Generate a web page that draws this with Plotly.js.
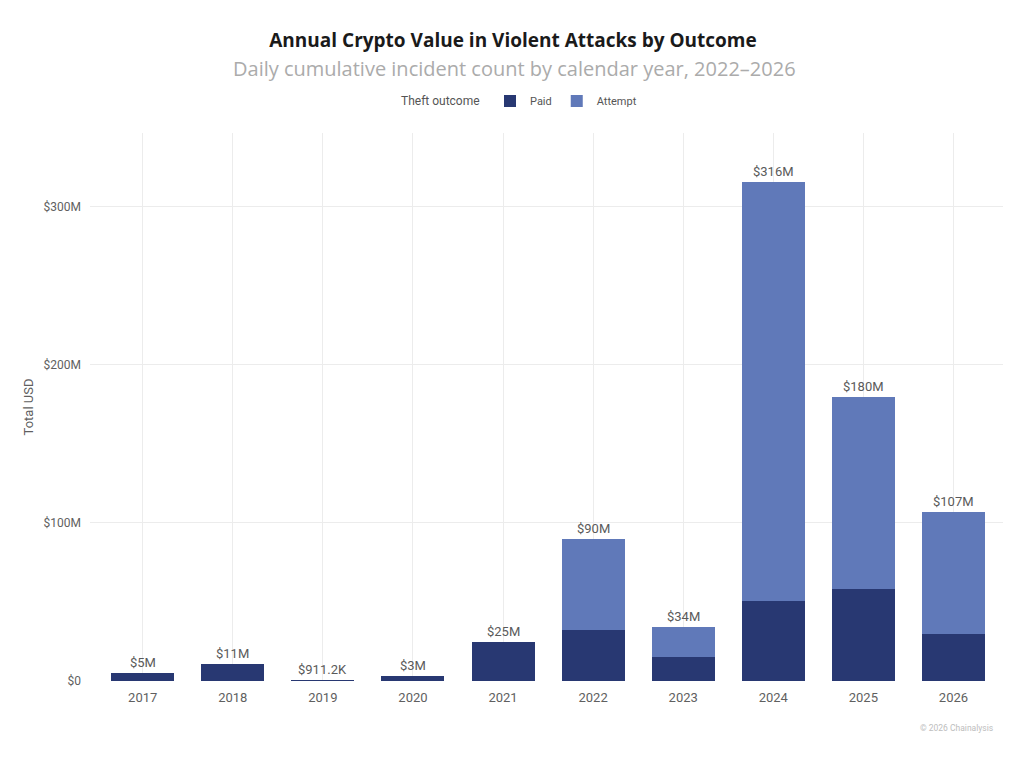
<!DOCTYPE html>
<html>
<head>
<meta charset="utf-8">
<script src="https://cdn.plot.ly/plotly-3.0.1.min.js"></script>
<style>
html,body{margin:0;padding:0;background:#fff;}
#chart{width:1024px;height:759px;}
</style>
</head>
<body>
<div id="chart"></div>
<script>
// ---- data ----
var years = ['2017','2018','2019','2020','2021','2022','2023','2024','2025','2026'];
var paidUSD = [5e6, 11e6, 0.9112e6, 3e6, 25e6, 32.3e6, 15.2e6, 50.6e6, 58.2e6, 29.5e6];
var attemptUSD = [0, 0, 0, 0, 0, 57.7e6, 18.8e6, 265.4e6, 121.8e6, 77.5e6];
var totalLabels = ['$5M','$11M','$911.2K','$3M','$25M','$90M','$34M','$316M','$180M','$107M'];
var yTickVals = [0, 100e6, 200e6, 300e6];
var yTickText = ['$0','$100M','$200M','$300M'];

var totals = paidUSD.map(function(v, i){ return v + attemptUSD[i]; });

var paidColor = '#283872';
var attemptColor = '#6079b9';

var traces = [
  {
    type: 'bar', name: 'Paid', x: years, y: paidUSD,
    marker: {color: paidColor, line: {width: 0}},
    hoverinfo: 'skip'
  },
  {
    type: 'bar', name: 'Attempt', x: years, y: attemptUSD,
    marker: {color: attemptColor, line: {width: 0}},
    hoverinfo: 'skip'
  }
];

// category axis: annotation x given as category index
var annotations = years.map(function(yr, i){
  return {
    x: i, y: totals[i], xref: 'x', yref: 'y',
    text: totalLabels[i], showarrow: false,
    yanchor: 'bottom', yshift: 1,
    font: {family: 'Roboto, sans-serif', size: 13, color: '#5a5a5a'}
  };
});

annotations.push({
  xref: 'paper', yref: 'paper', x: (514 - 90) / 913, y: (681 - 69) / 548, yanchor: 'middle',
  text: 'Daily cumulative incident count by calendar year, 2022–2026',
  showarrow: false,
  font: {family: '"Open Sans", sans-serif', size: 20, color: '#ababab'}
});
annotations.push({
  xref: 'paper', yref: 'paper', x: (482 - 90) / 913, xanchor: 'right', y: (681 - 101) / 548, yanchor: 'middle',
  text: 'Theft outcome', showarrow: false,
  font: {family: 'Roboto, sans-serif', size: 12, color: '#555'}
});
annotations.push({
  xref: 'paper', yref: 'paper', x: (995 - 90) / 913, xanchor: 'right', y: (681 - 728) / 548, yanchor: 'middle',
  text: '© 2026 Chainalysis', showarrow: false,
  font: {family: 'Roboto, sans-serif', size: 8.5, color: '#bdbdbd'}
});

var layout = {
  width: 1024, height: 759,
  paper_bgcolor: '#ffffff', plot_bgcolor: '#ffffff',
  margin: {l: 90, r: 21, t: 133, b: 78},
  barmode: 'stack',
  bargap: 0.3,
  showlegend: true,
  title: {
    text: '<b>Annual Crypto Value in Violent Attacks by Outcome</b>',
    x: 513 / 1024, xanchor: 'center', xref: 'container',
    y: 1 - 40/759, yref: 'container', yanchor: 'middle',
    font: {family: '"Open Sans", sans-serif', size: 19, color: '#1a1a1a'}
  },
  legend: {
    orientation: 'h', traceorder: 'normal',
    x: (490 - 90) / 913, xanchor: 'left', y: (681 - 101) / 548, yanchor: 'middle',
    font: {family: 'Roboto, sans-serif', size: 11, color: '#555'},
    bgcolor: 'rgba(0,0,0,0)',
    itemclick: false, itemdoubleclick: false
  },
  xaxis: {
    type: 'category',
    range: [-0.585, 9.55],
    showgrid: true, gridcolor: '#ececec', gridwidth: 1,
    zeroline: false, showline: false, ticks: '',
    tickfont: {family: 'Roboto, sans-serif', size: 13, color: '#5f5f5f'},
    ticklabelstandoff: 7
  },
  yaxis: {
    range: [0, 346.8e6],
    tickvals: yTickVals, ticktext: yTickText,
    showgrid: true, gridcolor: '#ececec', gridwidth: 1,
    zeroline: false, showline: false, ticks: '',
    tickfont: {family: 'Roboto, sans-serif', size: 12, color: '#5f5f5f'},
    ticklabelstandoff: 8,
    title: {text: 'Total USD', standoff: 6, font: {family: 'Roboto, sans-serif', size: 13, color: '#5f5f5f'}}
  },
  annotations: annotations,
  hovermode: false
};

Plotly.newPlot('chart', traces, layout, {displayModeBar: false, staticPlot: true});
</script>
</body>
</html>
